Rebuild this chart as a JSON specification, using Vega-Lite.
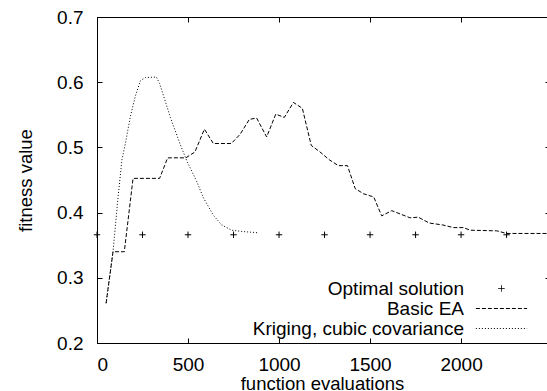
{
  "$schema": "https://vega.github.io/schema/vega-lite/v6.json",
  "width": 450,
  "height": 326,
  "autosize": {"type": "none"},
  "padding": {"left": 97, "top": 17, "right": 0, "bottom": 48},
  "background": "white",
  "config": {
    "view": {"stroke": null},
    "font": "Liberation Sans",
    "axis": {
      "domainColor": "black", "domainWidth": 1,
      "ticks": false,
      "grid": false, "gridColor": "black", "gridWidth": 1, "gridOpacity": 1,
      "labelFont": "Liberation Sans", "labelFontSize": 19, "labelColor": "black",
      "titleFont": "Liberation Sans", "titleFontSize": 18.5, "titleFontWeight": "normal", "titleColor": "black"
    },
    "legend": {
      "orient": "none", "legendX": 395, "legendY": 262,
      "labelAlign": "right", "labelOffset": -47, "labelLimit": 0,
      "labelFont": "Liberation Sans", "labelFontSize": 19, "labelColor": "black",
      "symbolSize": 41, "symbolStrokeColor": "black", "symbolStrokeWidth": 1,
      "symbolFillColor": "transparent", "rowPadding": 0, "padding": 0
    }
  },
  "data": {"values": [
    {"series": "Optimal solution", "x": 0, "y": 0.366},
    {"series": "Optimal solution", "x": 250, "y": 0.366},
    {"series": "Optimal solution", "x": 500, "y": 0.366},
    {"series": "Optimal solution", "x": 750, "y": 0.366},
    {"series": "Optimal solution", "x": 1000, "y": 0.366},
    {"series": "Optimal solution", "x": 1250, "y": 0.366},
    {"series": "Optimal solution", "x": 1500, "y": 0.366},
    {"series": "Optimal solution", "x": 1750, "y": 0.366},
    {"series": "Optimal solution", "x": 2000, "y": 0.366},
    {"series": "Optimal solution", "x": 2250, "y": 0.366},
    {"series": "Optimal solution", "x": 2500, "y": 0.366},
    {"series": "Basic EA", "x": 50, "y": 0.261},
    {"series": "Basic EA", "x": 88, "y": 0.340},
    {"series": "Basic EA", "x": 150, "y": 0.340},
    {"series": "Basic EA", "x": 198, "y": 0.4525},
    {"series": "Basic EA", "x": 344, "y": 0.4525},
    {"series": "Basic EA", "x": 388, "y": 0.484},
    {"series": "Basic EA", "x": 488, "y": 0.484},
    {"series": "Basic EA", "x": 538, "y": 0.493},
    {"series": "Basic EA", "x": 590, "y": 0.528},
    {"series": "Basic EA", "x": 639, "y": 0.506},
    {"series": "Basic EA", "x": 738, "y": 0.506},
    {"series": "Basic EA", "x": 786, "y": 0.520},
    {"series": "Basic EA", "x": 837, "y": 0.543},
    {"series": "Basic EA", "x": 877, "y": 0.545},
    {"series": "Basic EA", "x": 932, "y": 0.516},
    {"series": "Basic EA", "x": 982, "y": 0.551},
    {"series": "Basic EA", "x": 1029, "y": 0.546},
    {"series": "Basic EA", "x": 1079, "y": 0.569},
    {"series": "Basic EA", "x": 1128, "y": 0.560},
    {"series": "Basic EA", "x": 1177, "y": 0.503},
    {"series": "Basic EA", "x": 1225, "y": 0.493},
    {"series": "Basic EA", "x": 1276, "y": 0.481},
    {"series": "Basic EA", "x": 1326, "y": 0.472},
    {"series": "Basic EA", "x": 1376, "y": 0.472},
    {"series": "Basic EA", "x": 1418, "y": 0.437},
    {"series": "Basic EA", "x": 1463, "y": 0.429},
    {"series": "Basic EA", "x": 1520, "y": 0.424},
    {"series": "Basic EA", "x": 1564, "y": 0.395},
    {"series": "Basic EA", "x": 1619, "y": 0.403},
    {"series": "Basic EA", "x": 1674, "y": 0.397},
    {"series": "Basic EA", "x": 1720, "y": 0.392},
    {"series": "Basic EA", "x": 1765, "y": 0.393},
    {"series": "Basic EA", "x": 1825, "y": 0.384},
    {"series": "Basic EA", "x": 1900, "y": 0.381},
    {"series": "Basic EA", "x": 1958, "y": 0.377},
    {"series": "Basic EA", "x": 2013, "y": 0.377},
    {"series": "Basic EA", "x": 2050, "y": 0.373},
    {"series": "Basic EA", "x": 2196, "y": 0.372},
    {"series": "Basic EA", "x": 2251, "y": 0.368},
    {"series": "Basic EA", "x": 2500, "y": 0.368},
    {"series": "Kriging, cubic covariance", "x": 50, "y": 0.261},
    {"series": "Kriging, cubic covariance", "x": 88, "y": 0.340},
    {"series": "Kriging, cubic covariance", "x": 114, "y": 0.419},
    {"series": "Kriging, cubic covariance", "x": 137, "y": 0.481},
    {"series": "Kriging, cubic covariance", "x": 156, "y": 0.506},
    {"series": "Kriging, cubic covariance", "x": 183, "y": 0.547},
    {"series": "Kriging, cubic covariance", "x": 210, "y": 0.578},
    {"series": "Kriging, cubic covariance", "x": 238, "y": 0.602},
    {"series": "Kriging, cubic covariance", "x": 265, "y": 0.607},
    {"series": "Kriging, cubic covariance", "x": 326, "y": 0.608},
    {"series": "Kriging, cubic covariance", "x": 344, "y": 0.598},
    {"series": "Kriging, cubic covariance", "x": 403, "y": 0.546},
    {"series": "Kriging, cubic covariance", "x": 458, "y": 0.504},
    {"series": "Kriging, cubic covariance", "x": 494, "y": 0.479},
    {"series": "Kriging, cubic covariance", "x": 549, "y": 0.447},
    {"series": "Kriging, cubic covariance", "x": 584, "y": 0.423},
    {"series": "Kriging, cubic covariance", "x": 639, "y": 0.396},
    {"series": "Kriging, cubic covariance", "x": 685, "y": 0.381},
    {"series": "Kriging, cubic covariance", "x": 740, "y": 0.373},
    {"series": "Kriging, cubic covariance", "x": 800, "y": 0.371},
    {"series": "Kriging, cubic covariance", "x": 886, "y": 0.369}
  ]},
  "resolve": {"axis": {"x": "independent"}},
  "layer": [
    {
      "transform": [{"filter": "datum.series !== 'Optimal solution'"}],
      "mark": {"type": "line", "stroke": "black", "strokeWidth": 1, "clip": true},
      "encoding": {
        "x": {"field": "x", "type": "quantitative",
              "scale": {"domain": [0, 2472], "nice": false, "zero": false},
              "axis": {"values": [0, 500, 1000, 1500, 2000], "format": "d", "title": "function evaluations",
                       "grid": true, "gridDash": [5, 316, 5, 1000],
                       "labelPadding": 12, "titlePadding": 0, "orient": "bottom"}},
        "y": {"field": "y", "type": "quantitative",
              "scale": {"domain": [0.2, 0.7], "nice": false, "zero": false},
              "axis": {"values": [0.2, 0.3, 0.4, 0.5, 0.6, 0.7], "format": ".1f", "title": "fitness value",
                       "grid": true, "gridDash": [5, 443, 2, 1000],
                       "labelPadding": 14, "titlePadding": 21}},
        "strokeDash": {"field": "series", "type": "nominal",
              "scale": {"domain": ["Optimal solution", "Basic EA", "Kriging, cubic covariance"], "range": [[1, 0], [4, 2], [1, 2]]},
              "legend": {"title": null}},
        "detail": {"field": "series"}
      }
    },
    {
      "transform": [{"filter": "datum.series === 'Optimal solution'"}],
      "mark": {"type": "point", "filled": false, "stroke": "black", "strokeWidth": 1, "size": 41, "clip": false, "opacity": 1},
      "encoding": {
        "x": {"field": "x", "type": "quantitative",
              "axis": {"values": [0, 500, 1000, 1500, 2000], "orient": "top", "labels": false, "title": null, "grid": false}},
        "y": {"field": "y", "type": "quantitative"},
        "shape": {"field": "series", "type": "nominal",
              "scale": {"domain": ["Optimal solution", "Basic EA", "Kriging, cubic covariance"], "range": ["M-1,0H1M0,-1V1", "M-8,0H8", "M-8,0H8"]},
              "legend": {"title": null}}
      }
    }
  ]
}
